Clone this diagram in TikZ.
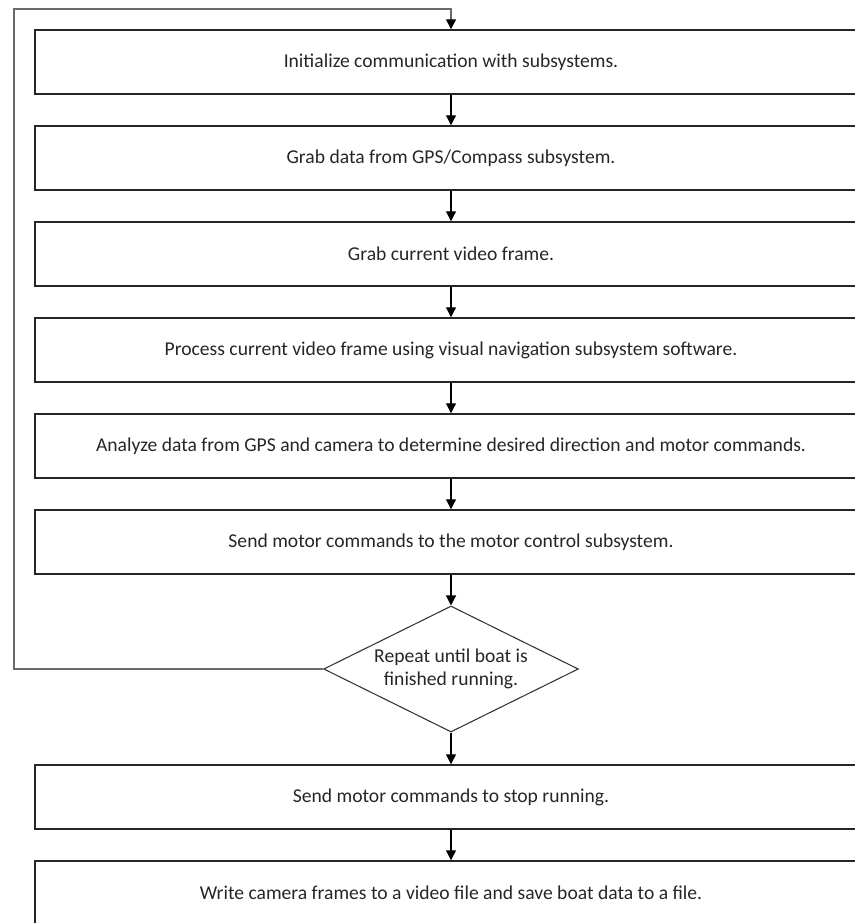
\documentclass[tikz,border=0pt]{standalone}
\usepackage{fontspec}
\setmainfont{Carlito}
\usetikzlibrary{arrows.meta,shapes.geometric}
\definecolor{loopgray}{HTML}{6A6A6A}
\definecolor{txt}{HTML}{262626}
\tikzset{
  stepbox/.style={draw=black!85,line width=1.1pt,minimum width=624pt,minimum height=48pt,inner sep=0pt,text=txt,font=\fontsize{14.7}{17.5}\selectfont},
  check/.style={draw=black!80,line width=0.8pt,shape=diamond,shape aspect=2,minimum width=191pt,minimum height=94.5pt,inner sep=0pt,align=center,text=txt,font=\fontsize{14.7}{17.5}\selectfont},
  flow/.style={line width=0.9pt,-{Triangle[length=7.5pt,width=7.5pt]}},
  loopline/.style={draw=loopgray,line width=1.1pt,-{Triangle[length=7.5pt,width=7.5pt,black]}}
}
\begin{document}
\begin{tikzpicture}[x=0.75pt,y=-0.75pt]
\useasboundingbox (0,0) rectangle (855,923);
\node[stepbox](init) at (451,62){Initialize communication with subsystems.};
\node[stepbox](gps) at (451,158){Grab data from GPS/Compass subsystem.};
\node[stepbox](grab) at (451,254){Grab current video frame.};
\node[stepbox](proc) at (451,350){Process current video frame using visual navigation subsystem software.};
\node[stepbox](anl) at (451,446){Analyze data from GPS and camera to determine desired direction and motor commands.};
\node[stepbox](send) at (451,542){Send motor commands to the motor control subsystem.};
\node[check](rep) at (451,669){Repeat until boat is\\finished running.};
\node[stepbox](stop) at (451,797){Send motor commands to stop running.};
\node[stepbox](save) at (451,893){Write camera frames to a video file and save boat data to a file.};
\coordinate (lp) at (14,9);
% main flow
\foreach \a/\b in {init/gps,gps/grab,grab/proc,proc/anl,anl/send,send/rep,rep/stop,stop/save}
  \draw[flow](\a)--(\b);
% loop back
\draw[loopline](rep.west)-|(lp)-|(init.north);
\end{tikzpicture}
\end{document}
